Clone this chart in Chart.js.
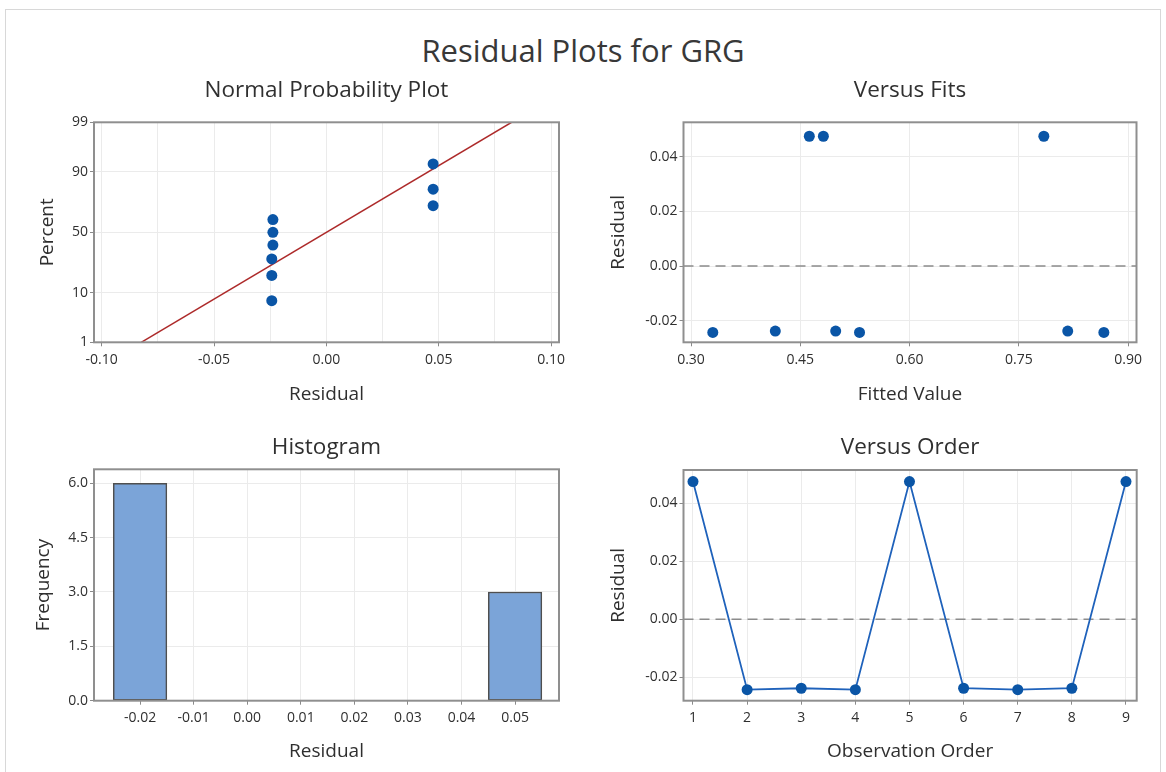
<!DOCTYPE html>
<html>
<head>
<meta charset="utf-8">
<title>Residual Plots for GRG</title>
<script src="https://cdn.jsdelivr.net/npm/chart.js@4.4.1/dist/chart.umd.min.js"></script>
<style>
  html, body { margin: 0; padding: 0; background: #fff; }
  #page { position: relative; width: 1166px; height: 772px; overflow: hidden; font-family: 'Open Sans', sans-serif; }
  #frame { position: absolute; left: 5px; top: 9px; width: 1154px; height: 790px; border: 1px solid #d8d8d8; }
  #mainTitle { position: absolute; left: 0; top: 35px; width: 1166px; text-align: center; font-size: 31px; line-height: 31px; color: #383838; }
  .panel { position: absolute; }
  .panel canvas { display: block; }
</style>
</head>
<body>
<div id="page">
  <div id="frame"></div>
  <div id="mainTitle">Residual Plots for GRG</div>
  <div class="panel" style="left:20px;top:70px"><canvas id="nppChart" width="560" height="345"></canvas></div>
  <div class="panel" style="left:600px;top:70px"><canvas id="fitsChart" width="560" height="345"></canvas></div>
  <div class="panel" style="left:20px;top:420px"><canvas id="histChart" width="560" height="352"></canvas></div>
  <div class="panel" style="left:600px;top:420px"><canvas id="orderChart" width="560" height="352"></canvas></div>
</div>

<script>
// ---- data ----
const obsOrder     = [1, 2, 3, 4, 5, 6, 7, 8, 9];
const residuals    = [0.0475, -0.0243, -0.0238, -0.0243, 0.0475, -0.0238, -0.0243, -0.0238, 0.0475];
const fittedValues = [0.4624, 0.3299, 0.4157, 0.5313, 0.4817, 0.4986, 0.8667, 0.8171, 0.7843];

// normal probability plot: plotting positions (%) for the sorted residuals
const nppPercent     = [7.4, 18.1, 28.7, 39.4, 50.0, 60.6, 71.3, 81.9, 92.6];
const fitLineResid   = [-0.0824, 0.0824];
const fitLinePercent = [1, 99];

// histogram
const histBinMid = [-0.02, -0.01, 0.00, 0.01, 0.02, 0.03, 0.04, 0.05];
const histFreq   = [6, 0, 0, 0, 0, 0, 0, 3];

// tick labels
const nppPctTicks    = [1, 10, 50, 90, 99];
const nppResidTicks  = [-0.10, -0.05, 0.00, 0.05, 0.10];
const nppResidMinor  = [-0.075, -0.025, 0.025, 0.075];
const fitsTicks      = [0.30, 0.45, 0.60, 0.75, 0.90];
const residTicks     = [-0.02, 0.00, 0.02, 0.04];
const histFreqTicks  = [0.0, 1.5, 3.0, 4.5, 6.0];

// ---- style ----
const FONT = "'Open Sans', sans-serif";
const TXT = '#2f2f2f';
const GRID = '#ebebeb';
const TICK = '#8a8a8a';
const FRAME = '#8f8f8f';
const PT = '#0a55a6';

// inverse normal cdf (Acklam)
function probit(p) {
    const a = [-3.969683028665376e+01, 2.209460984245205e+02, -2.759285104469687e+02, 1.383577518672690e+02, -3.066479806614716e+01, 2.506628277459239e+00];
    const b = [-5.447609879822406e+01, 1.615858368580409e+02, -1.556989798598866e+02, 6.680131188771972e+01, -1.328068155288572e+01];
    const c = [-7.784894002430293e-03, -3.223964580411365e-01, -2.400758277161838e+00, -2.549732539343734e+00, 4.374664141464968e+00, 2.938163982698783e+00];
    const d = [7.784695709041462e-03, 3.224671290700398e-01, 2.445134137142996e+00, 3.754408661907416e+00];
    const pl = 0.02425;
    let q, r;
    if (p < pl) {
        q = Math.sqrt(-2 * Math.log(p));
        return (((((c[0]*q+c[1])*q+c[2])*q+c[3])*q+c[4])*q+c[5]) / ((((d[0]*q+d[1])*q+d[2])*q+d[3])*q+1);
    }
    if (p > 1 - pl) {
        q = Math.sqrt(-2 * Math.log(1 - p));
        return -(((((c[0]*q+c[1])*q+c[2])*q+c[3])*q+c[4])*q+c[5]) / ((((d[0]*q+d[1])*q+d[2])*q+d[3])*q+1);
    }
    q = p - 0.5; r = q * q;
    return (((((a[0]*r+a[1])*r+a[2])*r+a[3])*r+a[4])*r+a[5])*q / (((((b[0]*r+b[1])*r+b[2])*r+b[3])*r+b[4])*r+1);
}

// box around the plot area
const framePlugin = {
    id: 'frame',
    afterDraw(chart) {
        const a = chart.chartArea, ctx = chart.ctx;
        ctx.save();
        ctx.strokeStyle = FRAME;
        ctx.lineWidth = 2;
        ctx.strokeRect(a.left, a.top, a.right - a.left, a.bottom - a.top);
        ctx.restore();
    }
};

// dashed reference line at residual 0
const zeroLinePlugin = {
    id: 'zeroLine',
    beforeDatasetsDraw(chart) {
        const a = chart.chartArea, ctx = chart.ctx;
        const y = chart.scales.y.getPixelForValue(0);
        ctx.save();
        ctx.strokeStyle = '#8c8c8c';
        ctx.lineWidth = 1.4;
        ctx.setLineDash([10, 6]);
        ctx.beginPath();
        ctx.moveTo(a.left, y);
        ctx.lineTo(a.right, y);
        ctx.stroke();
        ctx.restore();
    }
};

function xScale(o) {
    return {
        type: 'linear', position: 'bottom', min: o.min, max: o.max, offset: false,
        afterBuildTicks: s => { s.ticks = o.ticks.map(v => ({ value: v })); },
        afterFit: s => { s.height = o.size; },
        grid: { color: GRID, offset: false, drawTicks: true, tickLength: 4, tickColor: o.tickColor || TICK },
        border: { display: false },
        ticks: { color: TXT, font: { family: FONT, size: 14 }, padding: 5, maxRotation: 0, autoSkip: false, callback: o.fmt },
        title: { display: true, text: o.title, color: TXT, font: { family: FONT, size: 19 }, padding: { top: 0, bottom: o.titlePad } }
    };
}

function yScale(o) {
    return {
        type: 'linear', position: 'left', min: o.min, max: o.max,
        afterBuildTicks: s => { s.ticks = o.ticks.map(v => ({ value: v })); },
        afterFit: s => { s.width = o.size; },
        grid: { color: GRID, drawTicks: true, tickLength: 4, tickColor: TICK },
        border: { display: false },
        ticks: { color: TXT, font: { family: FONT, size: 14 }, padding: 2, autoSkip: false, callback: o.fmt },
        title: { display: true, text: o.title, color: TXT, font: { family: FONT, size: 19 }, padding: { top: o.titlePad, bottom: 0 } }
    };
}

function panelTitle(text, top, bottom) {
    return {
        display: true, text: text, fullSize: false, color: '#303030',
        font: { family: FONT, size: 22.5, weight: 'normal' },
        padding: { top: top, bottom: bottom }
    };
}

const common = {
    responsive: false,
    animation: false,
    events: [],
};

const fix2 = v => Number(v).toFixed(2);

// 1. Normal Probability Plot
const sortedResid = residuals.slice().sort((p, q) => p - q);
const nppXAll = nppResidTicks.concat(nppResidMinor).sort((p, q) => p - q);
const isMajor = v => nppResidTicks.some(t => Math.abs(t - v) < 1e-9);

new Chart(document.getElementById('nppChart'), {
    type: 'scatter',
    data: {
        datasets: [{
            data: sortedResid.map((r, i) => ({ x: r, y: probit(nppPercent[i] / 100) })),
            backgroundColor: PT, borderColor: PT, pointRadius: 5.5, borderWidth: 0, order: 0
        }, {
            data: fitLineResid.map((r, i) => ({ x: r, y: probit(fitLinePercent[i] / 100) })),
            showLine: true, borderColor: '#ad2a2a', borderWidth: 1.5, pointRadius: 0, order: 1
        }]
    },
    options: Object.assign({}, common, {
        layout: { padding: { left: 0, top: 0, right: 21, bottom: 0 } },
        plugins: { legend: { display: false }, tooltip: { enabled: false },
            title: panelTitle('Normal Probability Plot', 7.5, 17.8) },
        scales: {
            x: xScale({ min: -0.1034, max: 0.1035, ticks: nppXAll, size: 72.7, title: 'Residual', titlePad: 8.6,
                fmt: v => isMajor(v) ? fix2(v) : '',
                tickColor: ctx => (ctx.tick && isMajor(ctx.tick.value)) ? TICK : 'rgba(0,0,0,0)' }),
            y: yScale({ min: probit(0.01), max: probit(0.99), ticks: nppPctTicks.map(p => probit(p / 100)),
                size: 74, title: 'Percent', titlePad: 16.6,
                fmt: (v, i) => String(nppPctTicks[i]) })
        }
    }),
    plugins: [framePlugin]
});

// 2. Versus Fits
new Chart(document.getElementById('fitsChart'), {
    type: 'scatter',
    data: {
        datasets: [{
            data: fittedValues.map((f, i) => ({ x: f, y: residuals[i] })),
            backgroundColor: PT, borderColor: PT, pointRadius: 5.5, borderWidth: 0
        }]
    },
    options: Object.assign({}, common, {
        layout: { padding: { left: 0, top: 0, right: 23.5, bottom: 0 } },
        plugins: { legend: { display: false }, tooltip: { enabled: false },
            title: panelTitle('Versus Fits', 7.5, 17.8) },
        scales: {
            x: xScale({ min: 0.2897, max: 0.9115, ticks: fitsTicks, size: 72.7, title: 'Fitted Value', titlePad: 8.6, fmt: fix2 }),
            y: yScale({ min: -0.0279, max: 0.0526, ticks: residTicks, size: 83.5, title: 'Residual', titlePad: 7.0, fmt: fix2 })
        }
    }),
    plugins: [zeroLinePlugin, framePlugin]
});

// 3. Histogram
new Chart(document.getElementById('histChart'), {
    type: 'bar',
    data: {
        datasets: [{
            data: histBinMid.map((m, i) => ({ x: m, y: histFreq[i] })),
            backgroundColor: '#7ba4d8', borderColor: '#4f4f4f', borderWidth: 1.5, borderSkipped: false,
            barPercentage: 1, categoryPercentage: 1
        }]
    },
    options: Object.assign({}, common, {
        layout: { padding: { left: 0, top: 0, right: 21, bottom: 0 } },
        plugins: { legend: { display: false }, tooltip: { enabled: false },
            title: panelTitle('Histogram', 14.5, 7.8) },
        scales: {
            x: xScale({ min: -0.0286, max: 0.0582, ticks: histBinMid, size: 71.3, title: 'Residual', titlePad: 8.6, fmt: fix2 }),
            y: yScale({ min: 0, max: 6.386, ticks: histFreqTicks, size: 74, title: 'Frequency', titlePad: 12.6,
                fmt: v => Number(v).toFixed(1) })
        }
    }),
    plugins: [framePlugin]
});

// 4. Versus Order
new Chart(document.getElementById('orderChart'), {
    type: 'scatter',
    data: {
        datasets: [{
            data: obsOrder.map((o, i) => ({ x: o, y: residuals[i] })),
            showLine: true, borderColor: '#1f62bb', borderWidth: 1.8,
            pointBackgroundColor: PT, pointBorderColor: PT, pointRadius: 5.5, pointBorderWidth: 0
        }]
    },
    options: Object.assign({}, common, {
        layout: { padding: { left: 0, top: 0, right: 23.3, bottom: 0 } },
        plugins: { legend: { display: false }, tooltip: { enabled: false },
            title: panelTitle('Versus Order', 14.5, 8.5) },
        scales: {
            x: xScale({ min: 0.8245, max: 9.198, ticks: obsOrder, size: 71.3, title: 'Observation Order', titlePad: 8.6,
                fmt: v => String(v) }),
            y: yScale({ min: -0.0281, max: 0.0515, ticks: residTicks, size: 83.5, title: 'Residual', titlePad: 7.6, fmt: fix2 })
        }
    }),
    plugins: [zeroLinePlugin, framePlugin]
});
</script>
</body>
</html>
